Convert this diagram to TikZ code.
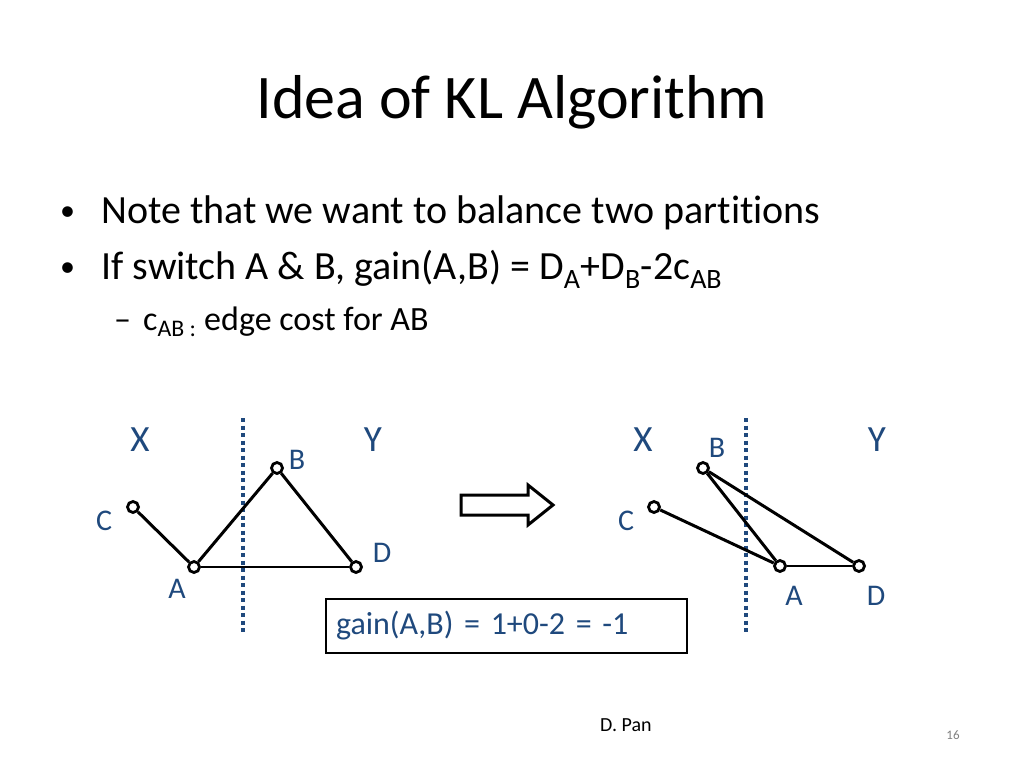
\documentclass[tikz,border=0pt]{standalone}
\usepackage{fontspec}
\setmainfont{Carlito}[Ligatures=NoCommon]
\definecolor{slideblue}{RGB}{31,73,125}

\begin{document}
\begin{tikzpicture}[x=1pt, y=-1pt,
  vx/.style={circle, draw, line width=2.8pt, fill=white, inner sep=0pt, minimum size=11pt},
  lbl/.style={text=slideblue, font=\fontsize{30}{32}\selectfont, inner sep=0pt},
  side/.style={text=slideblue, font=\fontsize{37}{40}\selectfont, inner sep=0pt},
  cut/.style={slideblue, line width=3.5pt, dash pattern=on 4pt off 3.5pt},
  edge/.style={line width=3pt},
  thin edge/.style={line width=1.8pt}]

\useasboundingbox[fill=white] (0,0) rectangle (1024,768);

% --- Title and bullets ---
\node[anchor=base, inner sep=0pt, font=\fontsize{62}{70}\selectfont] (title) at (512,118)
  {Idea of KL Algorithm};
\node[anchor=base west, inner sep=0pt, font=\fontsize{30}{34}\selectfont] (dot1) at (60,220) {•};
\node[anchor=base west, inner sep=0pt, font=\fontsize{40}{44}\selectfont] (item1) at (101,223)
  {Note that we want to balance two partitions};
\node[anchor=base west, inner sep=0pt, font=\fontsize{30}{34}\selectfont] (dot2) at (60,276) {•};
\node[anchor=base west, inner sep=0pt, font=\fontsize{40}{44}\selectfont] (item2) at (101,279)
  {If switch A \& B, gain(A,B) = D\textsubscript{A}+D\textsubscript{B}-2c\textsubscript{AB}};
\node[anchor=base west, inner sep=0pt, font=\fontsize{34}{38}\selectfont] (dash1) at (114,330) {–};
\node[anchor=base west, inner sep=0pt, font=\fontsize{34}{38}\selectfont] (sub1) at (143,330)
  {c\textsubscript{AB :} edge cost for AB};

% --- Before the switch ---
\node[side] (x1) at (140,440) {X};
\node[side] (y1) at (373,440) {Y};
\coordinate (cut1top) at (243,418);
\coordinate (cut1bot) at (243,634);
\draw[cut] (cut1top) -- (cut1bot);
\node[vx] (c1) at (133,507) {};
\node[vx] (a1) at (194,567) {};
\node[vx] (b1) at (277,468) {};
\node[vx] (d1) at (356,567) {};
\draw[edge] (c1) -- (a1);
\draw[edge] (a1) -- (b1);
\draw[edge] (b1) -- (d1);
\draw[thin edge] (a1) -- (d1);
\node[lbl] (lb1) at (297,460) {B};
\node[lbl] (lc1) at (104,521) {C};
\node[lbl] (ld1) at (382,553) {D};
\node[lbl] (la1) at (177,589) {A};

% --- Switch arrow ---
\draw[line width=3pt, fill=white] (461,495) -- (528,495) -- (528,485) -- (553,505)
  -- (528,525) -- (528,515) -- (461,515) -- cycle;

% --- After the switch ---
\node[side] (x2) at (643,440) {X};
\node[side] (y2) at (877,440) {Y};
\coordinate (cut2top) at (746,418);
\coordinate (cut2bot) at (746,634);
\draw[cut] (cut2top) -- (cut2bot);
\node[vx] (b2) at (703,468) {};
\node[vx] (c2) at (654,507) {};
\node[vx] (a2) at (780,566) {};
\node[vx] (d2) at (859,566) {};
\draw[edge] (c2) -- (a2);
\draw[edge] (b2) -- (a2);
\draw[edge] (b2) -- (d2);
\draw[thin edge] (a2) -- (d2);
\node[lbl] (lb2) at (717,448) {B};
\node[lbl] (lc2) at (626,521) {C};
\node[lbl] (la2) at (794,596) {A};
\node[lbl] (ld2) at (876,596) {D};

% --- Gain box ---
\node[draw, line width=2pt, anchor=west, minimum width=361pt, minimum height=54pt,
  inner xsep=10pt, text width=341pt, align=left, text=slideblue,
  font=\fontsize{32}{34}\selectfont] (gain) at (325,626) {gain(A,B) = 1+0-2 = -1};

% --- Footer ---
\node[anchor=base west, inner sep=0pt, font=\fontsize{20}{22}\selectfont] (author) at (600,731) {D. Pan};
\node[anchor=base, inner sep=0pt, text=gray, font=\fontsize{13}{15}\selectfont] (page) at (953,739) {16};

\end{tikzpicture}
\end{document}
